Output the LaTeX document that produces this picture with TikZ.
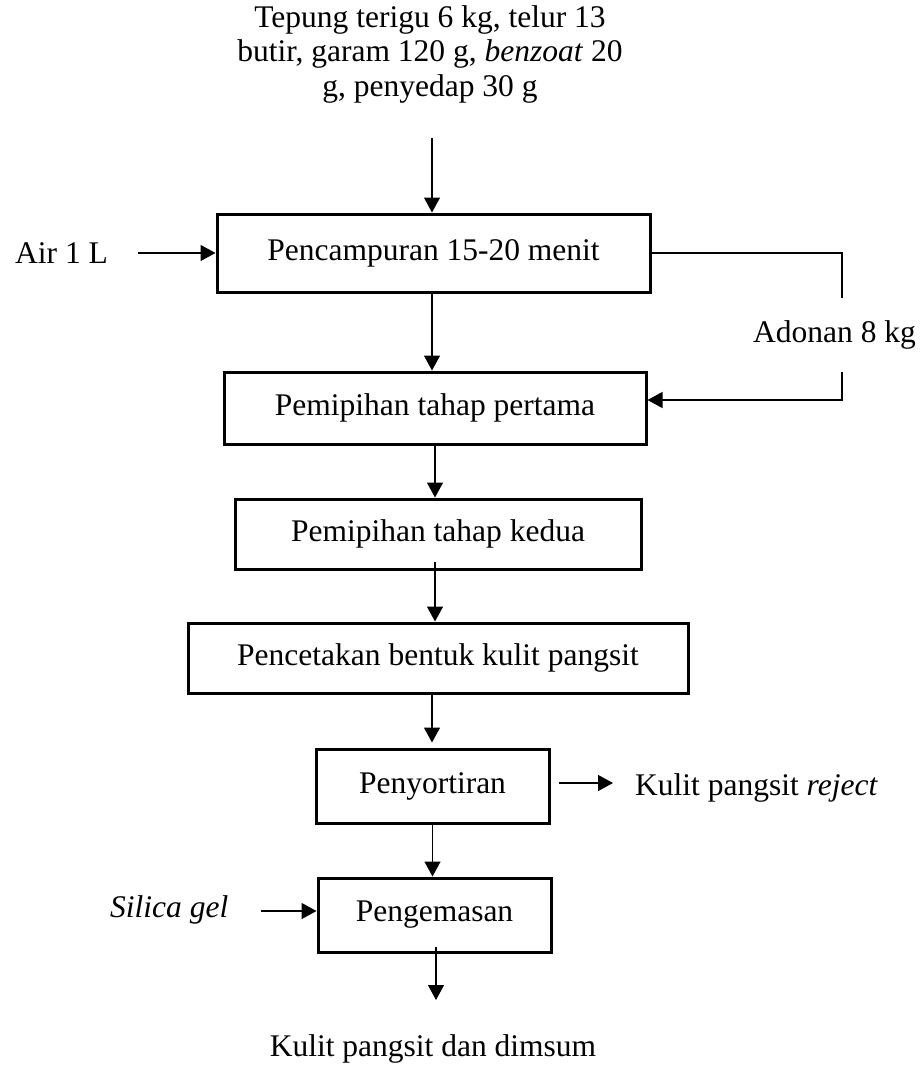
\documentclass[tikz,border=0pt]{standalone}
\usepackage{fontspec}
\setmainfont{Liberation Serif}
\usetikzlibrary{arrows.meta}
\begin{document}
\begin{tikzpicture}[x=1pt,y=-1pt,
  font=\fontsize{31.5}{34.5}\selectfont,
  stepbox/.style={draw, line width=3pt, inner sep=0pt, anchor=center},
  tip/.style={-{Triangle[length=15pt,width=16pt]}},
  arr/.style={line width=1.4pt, tip},
  plain/.style={line width=1.3pt},
  lbl/.style={inner sep=0pt}]
\useasboundingbox (0,0) rectangle (923,1077);

% process steps
\node[stepbox, minimum width=433pt, minimum height=78pt] (b1) at (433.5,253) {Pencampuran 15-20 menit};
\node[stepbox, minimum width=422pt, minimum height=72pt] (b2) at (435,408) {Pemipihan tahap pertama};
\node[stepbox, minimum width=406pt, minimum height=70pt] (b3) at (438,534) {Pemipihan tahap kedua};
\node[stepbox, minimum width=500pt, minimum height=70pt] (b4) at (438,658) {Pencetakan bentuk kulit pangsit};
\node[stepbox, minimum width=233pt, minimum height=74pt] (b5) at (432.5,786) {Penyortiran};
\node[stepbox, minimum width=233pt, minimum height=74pt] (b6) at (434.5,915) {Pengemasan};

% inputs and outputs
\node[lbl, align=center] (bahan) at (430,54) {Tepung terigu 6 kg, telur 13\\butir, garam 120 g, \textit{benzoat} 20\\g, penyedap 30 g};
\node[lbl, anchor=base west] (air) at (15,263) {Air 1 L};
\node[lbl, anchor=base west] (adonan) at (753,342) {Adonan 8 kg};
\node[lbl, anchor=base west] (reject) at (635,795) {Kulit pangsit \textit{reject}};
\node[lbl, anchor=base west] (silica) at (110,917) {\textit{Silica gel}};
\node[lbl, anchor=base] (produk) at (433,1056) {Kulit pangsit dan dimsum};

% connector end points
\coordinate (top) at (432,138);
\coordinate (airend) at (138,253);
\coordinate (fbA) at (842,253);
\coordinate (fbB) at (842,298);
\coordinate (fbC) at (842,372);
\coordinate (fbD) at (842,400);
\coordinate (rejA) at (559,783);
\coordinate (rejB) at (613,783);
\coordinate (silA) at (261,911);
\coordinate (outA) at (436,947);
\coordinate (outB) at (436,1000);

% flow arrows
\draw[arr] (top) -- (top |- b1.north);
\draw[arr] (airend) -- (b1.west);
\draw[arr] ([xshift=-1.5pt]b1.south) -- ([xshift=-1.5pt]b1.south |- b2.north);
\draw[arr] (b2.south) -- (b2.south |- b3.north);
\draw[arr] ([xshift=-3pt,yshift=9pt]b3.south) -- ([xshift=-3pt]b3.south |- b4.north);
\draw[arr] ([xshift=-6pt,yshift=3pt]b4.south) -- ([xshift=-6pt,yshift=5pt]b4.south |- b5.north);
\draw[arr] (b5.south) -- (b5.south |- b6.north);
\draw[arr] (silA) -- (silA -| b6.west);
\draw[arr] (rejA) -- (rejB);
\draw[arr] (outA) -- (outB);

% dough recycle line
\draw[plain] (b1.east |- fbA) -- (fbA) -- (fbB);
\draw[plain, tip] (fbC) -- (fbD) -- (fbD -| b2.east);
\end{tikzpicture}
\end{document}
